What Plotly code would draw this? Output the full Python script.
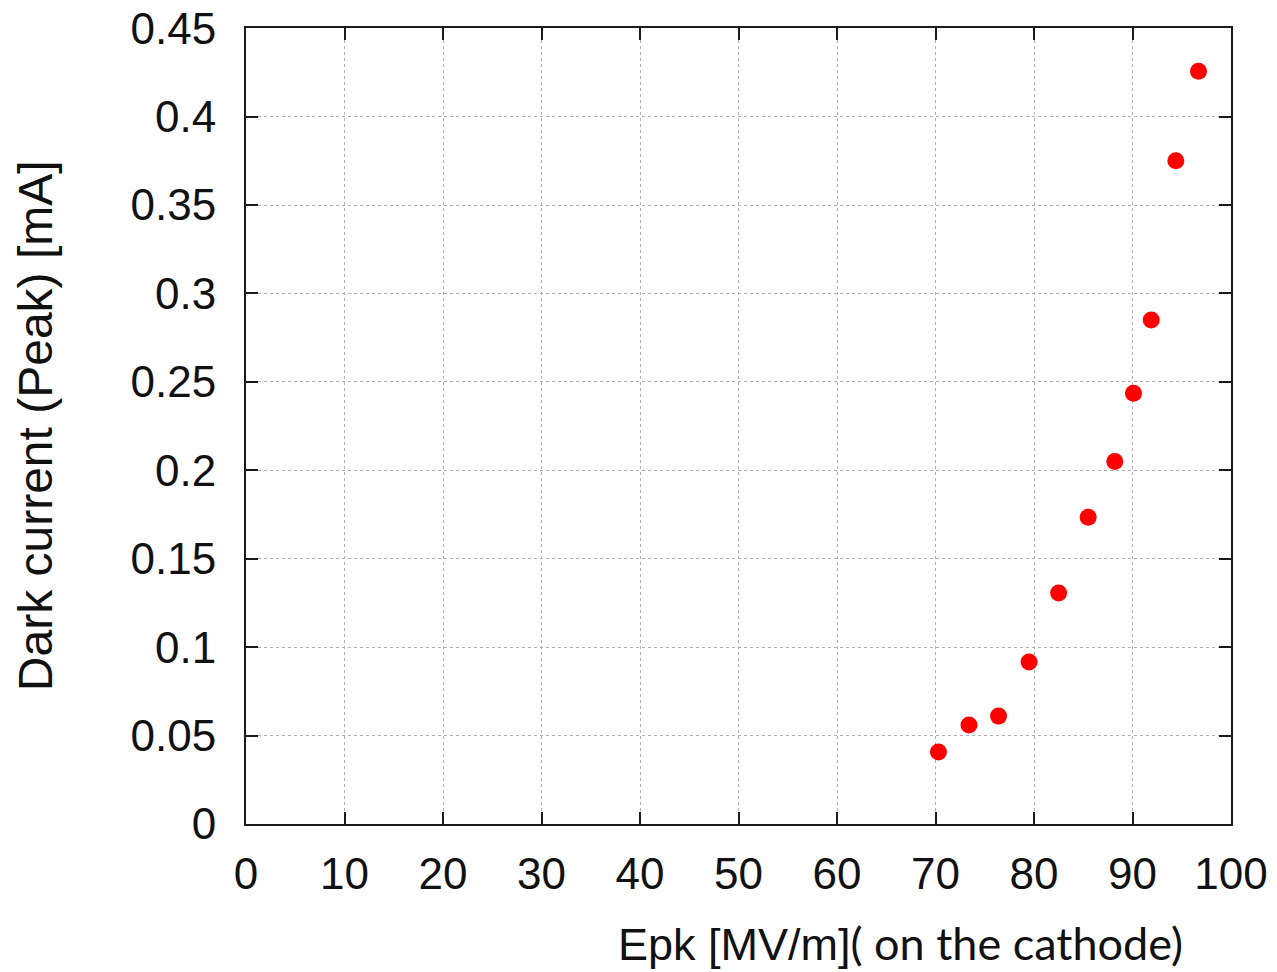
import plotly.graph_objects as go

epk = [70.3, 73.4, 76.4, 79.5, 82.5, 85.5, 88.2, 90.1, 91.9, 94.4, 96.7]
dark_current = [0.0407, 0.056, 0.061, 0.0916, 0.1306, 0.1735, 0.205, 0.2436, 0.285, 0.375, 0.4257]
x_ticks = [0, 10, 20, 30, 40, 50, 60, 70, 80, 90, 100]
y_ticks = [0, 0.05, 0.1, 0.15, 0.2, 0.25, 0.3, 0.35, 0.4, 0.45]
y_tick_text = ["0", "0.05", "0.1", "0.15", "0.2", "0.25", "0.3", "0.35", "0.4", "0.45"]

fig = go.Figure()
fig.add_trace(go.Scatter(
    x=epk, y=dark_current, mode="markers",
    marker=dict(color="#ff0000", size=17, line=dict(width=0)),
    showlegend=False, cliponaxis=False,
))

axis_common = dict(
    showline=True, linecolor="#1a1a1a", linewidth=2, mirror="ticks",
    ticks="inside", ticklen=12, tickwidth=2, tickcolor="#1a1a1a",
    showgrid=True, gridcolor="#b0b0b0", griddash="dot", gridwidth=1,
    zeroline=False, automargin=False, ticklabeloverflow="allow",
    tickfont=dict(family="Liberation Sans, Arial, sans-serif", size=44, color="#111"),
)

fig.update_xaxes(range=[0, 100], tickvals=x_ticks, ticklabelstandoff=10, **axis_common)
fig.update_yaxes(range=[0, 0.4501], tickvals=y_ticks, ticktext=y_tick_text, ticklabelstandoff=19, **axis_common)

fig.add_annotation(
    text="Dark current (Peak) [mA]", xref="paper", yref="paper",
    x=-0.214, y=0.5, textangle=-90, showarrow=False,
    font=dict(family="Liberation Sans, Arial, sans-serif", size=48, color="#111"),
    xanchor="center", yanchor="middle",
)
fig.add_annotation(
    text="Epk [MV/m]<span style='font-family:Lato, Open Sans, sans-serif'>( on the cathode)</span>",
    xref="paper", yref="paper", x=0.953, y=-0.15, showarrow=False,
    font=dict(family="Liberation Sans, Arial, sans-serif", size=45, color="#111"),
    xanchor="right", yanchor="middle",
)

fig.update_layout(
    width=1277, height=972,
    margin=dict(l=238, r=54, t=20, b=156),
    paper_bgcolor="white", plot_bgcolor="white",
)

fig.write_html("out.html")
